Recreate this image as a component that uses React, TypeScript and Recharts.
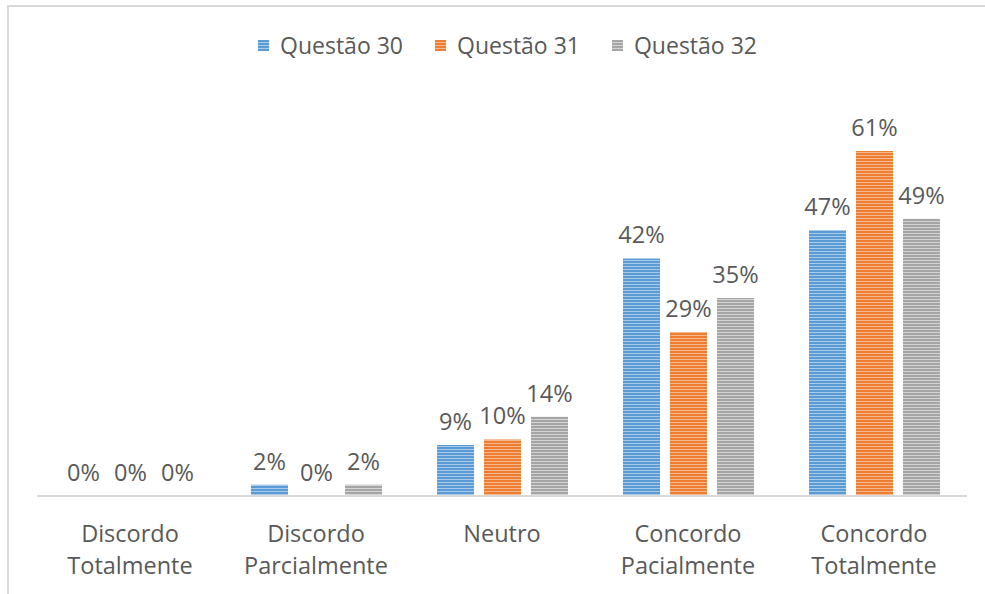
import { BarChart, Bar, XAxis, YAxis, LabelList } from "recharts";

const categories = [
  "Discordo Totalmente",
  "Discordo Parcialmente",
  "Neutro",
  "Concordo Pacialmente",
  "Concordo Totalmente",
];
const questao30 = [0, 2, 9, 42, 47];
const questao31 = [0, 0, 10, 29, 61];
const questao32 = [0, 2, 14, 35, 49];

const SERIES = [
  { key: "q30", name: "Questão 30", base: "#5B9BD5", light: "#A9CBEA" },
  { key: "q31", name: "Questão 31", base: "#ED7D31", light: "#F6B98F" },
  { key: "q32", name: "Questão 32", base: "#A5A5A5", light: "#D4D4D4" },
];

const data = categories.map((name, i) => ({
  name,
  q30: questao30[i],
  q31: questao31[i],
  q32: questao32[i],
}));

const FONT = "'Open Sans', sans-serif";
const TEXT = "#595959";
const SIZE = 23.5;

const CategoryTick = ({ x, y, payload }: any) => {
  const words = String(payload.value).split(" ");
  return (
    <text x={x} y={y} textAnchor="middle" fill={TEXT} fontFamily={FONT} fontSize={SIZE}>
      {words.map((w, i) => (
        <tspan key={i} x={x} dy={i === 0 ? 46 : 32}>
          {w}
        </tspan>
      ))}
    </text>
  );
};

export default function App() {
  return (
    <div style={{
      position: "absolute", left: 0, top: 0, width: 985, height: 594,
      background: "#fff", overflow: "hidden",
    }}>
      {/* stripe fills, shared by bars and legend */}
      <svg width={0} height={0} style={{ position: "absolute" }}>
        <defs>
          {SERIES.map((s) => (
            <pattern key={s.key} id={`stripe-${s.key}`} patternUnits="userSpaceOnUse" width={6} height={3}>
              <rect x={0} y={0} width={6} height={3} fill={s.base} />
              <rect x={0} y={2} width={6} height={1} fill={s.light} />
            </pattern>
          ))}
        </defs>
      </svg>

      <div style={{ position: "absolute", left: 7, top: 5, width: 978, height: 2, background: "#D9D9D9" }} />
      <div style={{ position: "absolute", left: 7, top: 5, width: 2, height: 589, background: "#D9D9D9" }} />

      <div style={{
        position: "absolute", top: 29, left: 30, width: 955, display: "flex",
        justifyContent: "center", gap: 32, fontFamily: FONT, fontSize: 23, color: TEXT,
      }}>
        {SERIES.map((s) => (
          <div key={s.key} style={{ display: "flex", alignItems: "center", gap: 11 }}>
            <svg width={11} height={11}>
              <rect width={11} height={11} fill={`url(#stripe-${s.key})`} />
            </svg>
            <span>{s.name}</span>
          </div>
        ))}
      </div>

      <div style={{ position: "absolute", left: 0, top: 0 }}>
        <BarChart
          width={985}
          height={594}
          data={data}
          margin={{ top: 100, right: 18, bottom: 0, left: 37 }}
          barSize={37}
          barGap={10}
        >
          <XAxis
            dataKey="name"
            height={98}
            axisLine={{ stroke: "#D9D9D9", strokeWidth: 2 }}
            tickLine={false}
            tickSize={0}
            tickMargin={0}
            interval={0}
            tick={<CategoryTick />}
          />
          <YAxis hide domain={[0, 70]} />
          {SERIES.map((s) => (
            <Bar
              key={s.key}
              dataKey={s.key}
              name={s.name}
              fill={`url(#stripe-${s.key})`}
              minPointSize={0.01}
              isAnimationActive={false}
            >
              <LabelList
                dataKey={s.key}
                position="top"
                offset={15}
                formatter={(v: any) => `${v}%`}
                fill={TEXT}
                fontFamily={FONT}
                fontSize={SIZE}
              />
            </Bar>
          ))}
        </BarChart>
      </div>
    </div>
  );
}
